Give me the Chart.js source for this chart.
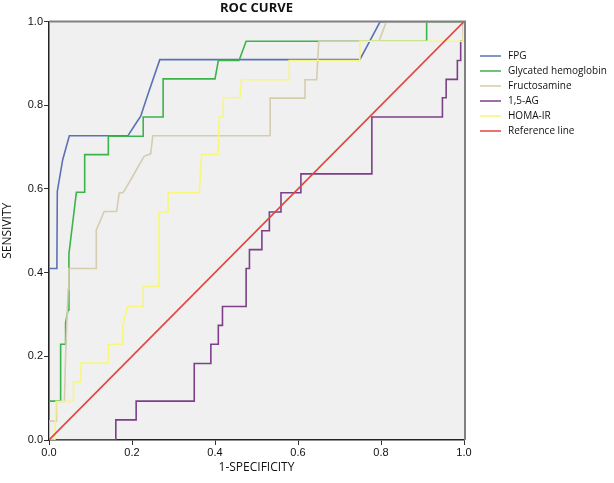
<!DOCTYPE html>
<html>
<head>
<meta charset="utf-8">
<script src="https://cdn.jsdelivr.net/npm/chart.js@4.4.1/dist/chart.umd.min.js"></script>
<style>
  html, body { margin: 0; padding: 0; background: #fff; }
  #wrap { width: 614px; height: 483px; }
</style>
</head>
<body>
<div id="wrap"><canvas id="chart" width="614" height="483"></canvas></div>
<script>
// ROC points as [1-specificity, sensitivity]
const fpg = [
  [0, 0], [0, 0.41], [0.019, 0.41], [0.020, 0.594], [0.033, 0.67], [0.049, 0.727],
  [0.19, 0.727], [0.205, 0.75], [0.221, 0.774], [0.237, 0.822], [0.267, 0.909],
  [0.749, 0.909], [0.798, 1], [1, 1],
];
const glycated = [
  [0, 0], [0, 0.093], [0.028, 0.093], [0.028, 0.229], [0.040, 0.229], [0.040, 0.28],
  [0.046, 0.311], [0.048, 0.359], [0.048, 0.445], [0.066, 0.592], [0.086, 0.592],
  [0.086, 0.682], [0.143, 0.682], [0.143, 0.726], [0.227, 0.726], [0.227, 0.772],
  [0.275, 0.772], [0.275, 0.863], [0.4, 0.863], [0.408, 0.907], [0.458, 0.907],
  [0.475, 0.953], [0.91, 0.953], [0.91, 1], [1, 1],
];
const fructosamine = [
  [0, 0], [0, 0.045], [0.018, 0.045], [0.018, 0.092], [0.037, 0.092], [0.040, 0.2],
  [0.046, 0.36], [0.048, 0.41], [0.114, 0.41], [0.114, 0.502], [0.133, 0.546],
  [0.163, 0.546], [0.169, 0.59], [0.179, 0.592], [0.197, 0.622], [0.229, 0.678],
  [0.245, 0.684], [0.25, 0.727], [0.533, 0.727], [0.533, 0.817], [0.617, 0.817],
  [0.617, 0.861], [0.645, 0.861], [0.65, 0.953], [0.795, 0.953], [0.813, 1], [1, 1],
];
const ag15 = [
  [0, 0], [0.161, 0], [0.161, 0.048], [0.21, 0.048], [0.21, 0.093], [0.35, 0.093],
  [0.35, 0.183], [0.39, 0.183], [0.39, 0.229], [0.408, 0.229], [0.408, 0.274],
  [0.418, 0.274], [0.418, 0.319], [0.475, 0.319], [0.475, 0.41], [0.483, 0.41],
  [0.483, 0.455], [0.513, 0.455], [0.513, 0.5], [0.531, 0.5], [0.531, 0.545],
  [0.559, 0.545], [0.559, 0.591], [0.607, 0.591], [0.607, 0.636], [0.778, 0.636],
  [0.778, 0.772], [0.948, 0.772], [0.948, 0.818], [0.957, 0.818], [0.957, 0.862],
  [0.984, 0.862], [0.984, 0.907], [0.992, 0.907], [0.992, 0.953], [0.999, 0.953],
  [0.999, 1], [1, 1],
];
const homaIr = [
  [0, 0], [0.014, 0], [0.017, 0.092], [0.059, 0.092], [0.059, 0.139], [0.077, 0.139],
  [0.077, 0.184], [0.143, 0.184], [0.143, 0.229], [0.178, 0.229], [0.178, 0.275],
  [0.189, 0.319], [0.227, 0.319], [0.227, 0.367], [0.265, 0.367], [0.265, 0.545],
  [0.287, 0.545], [0.287, 0.591], [0.362, 0.591], [0.368, 0.682], [0.408, 0.682],
  [0.41, 0.773], [0.42, 0.773], [0.42, 0.818], [0.46, 0.818], [0.464, 0.861],
  [0.579, 0.861], [0.579, 0.907], [0.749, 0.907], [0.749, 0.953], [0.998, 0.953],
  [1, 1],
];
const referenceLine = [[0, 0], [1, 1]];

const seriesNames = ["FPG", "Glycated hemoglobin", "Fructosamine", "1,5-AG", "HOMA-IR", "Reference line"];
const seriesData = [fpg, glycated, fructosamine, ag15, homaIr, referenceLine];
const seriesColors = ["#5a72b5", "#3db34b", "#d4cdae", "#7c3f88", "#f7f77a", "#e0463c"];
const drawOrder = [5, 4, 3, 2, 1, 0];
const tickValues = [0, 0.2, 0.4, 0.6, 0.8, 1.0];

const plotFrame = {
  id: "plotFrame",
  beforeDraw(chart) {
    const { ctx, chartArea: a } = chart;
    ctx.save();
    ctx.fillStyle = "#f0f0f0";
    ctx.fillRect(a.left, a.top, a.right - a.left, a.bottom - a.top);
    ctx.restore();
  },
  afterDraw(chart) {
    const { ctx, chartArea: a } = chart;
    ctx.save();
    ctx.strokeStyle = "#808080";
    ctx.lineWidth = 2;
    ctx.beginPath();
    ctx.moveTo(a.left, a.top);
    ctx.lineTo(a.right + 1, a.top);
    ctx.lineTo(a.right + 1, a.bottom);
    ctx.stroke();

    // legend
    ctx.font = "10px 'Open Sans'";
    ctx.textBaseline = "middle";
    ctx.fillStyle = "#111";
    seriesNames.forEach((name, i) => {
      const y = 56 + i * 15;
      ctx.strokeStyle = seriesColors[i];
      ctx.lineWidth = 1.5;
      ctx.beginPath();
      ctx.moveTo(480, y);
      ctx.lineTo(501, y);
      ctx.stroke();
      ctx.fillText(name, 508, y);
    });
    ctx.restore();
  },
};

new Chart(document.getElementById("chart"), {
  type: "line",
  data: {
    datasets: seriesNames.map((name, i) => ({
      label: name,
      data: seriesData[i].map(([x, y]) => ({ x, y })),
      borderColor: seriesColors[i],
      borderWidth: 1.6,
      pointRadius: 0,
      tension: 0,
      fill: false,
      order: drawOrder[i],
    })),
  },
  options: {
    responsive: false,
    animation: false,
    layout: { padding: { left: 0, right: 150, top: 0, bottom: 0 } },
    plugins: {
      legend: { display: false },
      tooltip: { enabled: false },
      title: {
        display: true,
        text: "ROC CURVE",
        fullSize: false,
        color: "#111",
        font: { family: "'Open Sans'", size: 13, weight: "bold" },
        padding: { top: 0, bottom: 6 },
      },
    },
    scales: {
      x: {
        type: "linear",
        min: 0,
        max: 1,
        afterBuildTicks: (s) => { s.ticks = tickValues.map((v) => ({ value: v })); },
        afterFit: (s) => { s.height = 43; },
        ticks: {
          color: "#111",
          padding: 1,
          font: { family: "'Liberation Sans'", size: 11 },
          callback: (v) => v.toFixed(1),
        },
        grid: { drawOnChartArea: false, drawTicks: true, tickLength: 5, color: "#333" },
        border: { color: "#222", width: 1.5 },
        title: {
          display: true,
          text: "1-SPECIFICITY",
          color: "#111",
          font: { family: "'Open Sans'", size: 12 },
          padding: { top: 2, bottom: 8 },
        },
      },
      y: {
        type: "linear",
        min: 0,
        max: 1,
        afterBuildTicks: (s) => { s.ticks = tickValues.map((v) => ({ value: v })); },
        afterFit: (s) => { s.width = 49; },
        ticks: {
          color: "#111",
          padding: 1,
          font: { family: "'Liberation Sans'", size: 11 },
          callback: (v) => v.toFixed(1),
        },
        grid: { drawOnChartArea: false, drawTicks: true, tickLength: 5, color: "#333" },
        border: { color: "#222", width: 1.5 },
        title: {
          display: true,
          text: "SENSIVITY",
          color: "#111",
          font: { family: "'Open Sans'", size: 12 },
          padding: { top: 0, bottom: 2 },
        },
      },
    },
  },
  plugins: [plotFrame],
});
</script>
</body>
</html>
